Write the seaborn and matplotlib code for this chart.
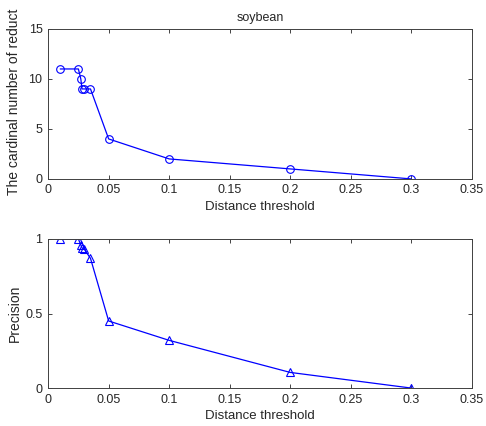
import matplotlib
matplotlib.use('Agg')
import matplotlib.pyplot as plt
import seaborn as sns
import pandas as pd

# data
threshold = [0.01, 0.025, 0.027, 0.028, 0.03, 0.035, 0.05, 0.1, 0.2, 0.3]
reduct_size = [11, 11, 10, 9, 9, 9, 4, 2, 1, 0]
precision = [1.0, 1.0, 0.96, 0.94, 0.93, 0.87, 0.45, 0.32, 0.105, 0.0]
xticks = [0, 0.05, 0.1, 0.15, 0.2, 0.25, 0.3, 0.35]
xtick_labels = ['0', '0.05', '0.1', '0.15', '0.2', '0.25', '0.3', '0.35']

df = pd.DataFrame({'threshold': threshold, 'reduct': reduct_size, 'precision': precision})

sns.set_style('ticks')
plt.rcParams['font.family'] = ['Liberation Sans', 'DejaVu Sans']
plt.rcParams['font.size'] = 9

fig = plt.figure(figsize=(4.86, 4.26), dpi=100)
ax1 = fig.add_axes([0.099, 0.580, 0.872, 0.352])
ax2 = fig.add_axes([0.099, 0.089, 0.872, 0.350])

mk = dict(markersize=5.5, markerfacecolor='none', markeredgecolor='blue', markeredgewidth=0.8)
sns.lineplot(data=df, x='threshold', y='reduct', ax=ax1, color='blue', lw=0.9, marker='o', **mk)
sns.lineplot(data=df, x='threshold', y='precision', ax=ax2, color='blue', lw=0.9, marker='^', **mk)

ax1.set_xlim(0, 0.35)
ax1.set_ylim(0, 15)
ax1.set_yticks([0, 5, 10, 15])
ax1.set_title('soybean', fontsize=9, pad=6)
ax1.set_ylabel('The cardinal number of reduct', fontsize=10, loc='bottom')
ax1.yaxis.set_label_coords(-0.063, -0.11)

ax2.set_xlim(0, 0.35)
ax2.set_ylim(0, 1)
ax2.set_yticks([0, 0.5, 1])
ax2.set_yticklabels(['0', '0.5', '1'])
ax2.set_ylabel('Precision', fontsize=10)
ax2.yaxis.set_label_coords(-0.063, 0.5)

for ax in (ax1, ax2):
    ax.set_xticks(xticks)
    ax.set_xticklabels(xtick_labels)
    ax.set_xlabel('Distance threshold', fontsize=9.5, labelpad=3)
    ax.tick_params(direction='in', length=3, width=0.6, labelsize=9, top=True, right=True, pad=4)
    for s in ax.spines.values():
        s.set_visible(True)
        s.set_linewidth(0.7)
        s.set_color('0.25')

fig.savefig('out.png', dpi=100)
